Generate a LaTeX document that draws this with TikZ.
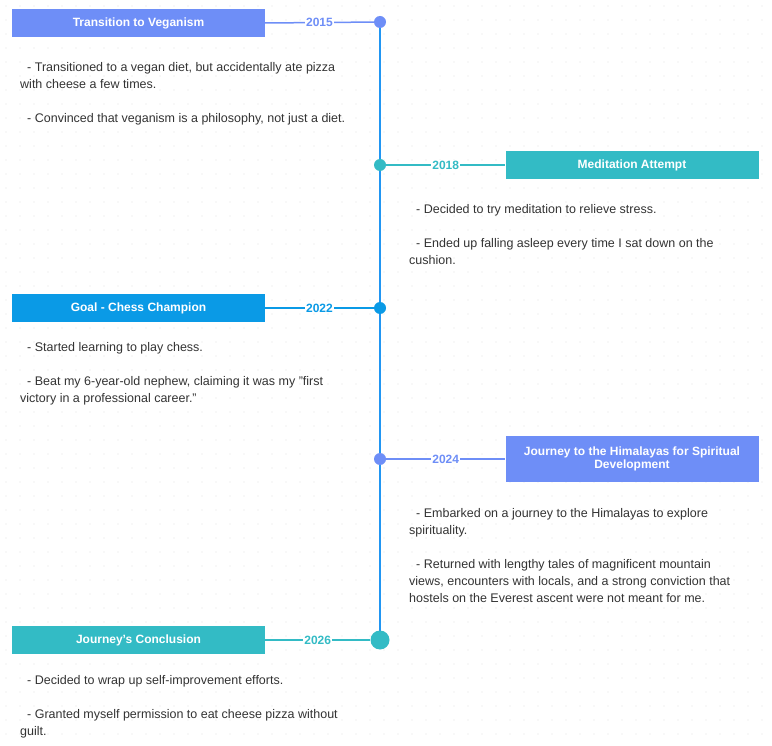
\documentclass[tikz,border=0pt]{standalone}
\usepackage{fontspec}
\setmainfont{Liberation Sans}
\definecolor{peri}{HTML}{6E8EF7}
\definecolor{teal}{HTML}{33BBC5}
\definecolor{cblue}{HTML}{0A9AE6}
\definecolor{tline}{HTML}{2196F3}
\definecolor{txt}{HTML}{333333}
\begin{document}
\begin{tikzpicture}[x=1pt,y=-1pt,
  box/.style={draw=none,fill=#1,minimum width=253pt,text=white,font=\fontsize{12}{13}\selectfont\bfseries,align=center,inner sep=2pt},
  yr/.style={fill=white,text=#1,font=\fontsize{12}{13}\selectfont\bfseries,inner sep=1pt},
  dot/.style={circle,fill=#1,inner sep=0pt,minimum size=12pt},
  conn/.style={draw=#1,line width=1.5pt},
  body/.style={anchor=north west,text=txt,font=\fontsize{12.5}{17}\selectfont,align=left,inner sep=0pt}]
\useasboundingbox (0,0) rectangle (772,746);
\fill[white] (0,0) rectangle (772,746);
\foreach \i in {0,...,55}{\foreach \j in {0,...,54}{\fill[gray!22] (6+\i*14,6+\j*14) circle (0.7pt);}}
\coordinate (top) at (380,22); \coordinate (bot) at (380,640);
\draw[tline,line width=2pt] (top) -- (bot);
% 2015
\node[box=peri,minimum height=28pt] (b1) at (138.5,23) {Transition to Veganism};
\node[dot=peri] (d1) at (380,22) {};
\draw[conn=peri] (b1.east) -- (d1) node[midway,yr=peri] {2015};
\node[body] (t1) at (20,62) {\hspace*{7pt}- Transitioned to a vegan diet, but accidentally ate pizza\\with cheese a few times.\\[17pt]\hspace*{7pt}- Convinced that veganism is a philosophy, not just a diet.};
% 2018
\node[box=teal,minimum height=28pt] (b2) at (632,165) {Meditation Attempt};
\node[dot=teal] (d2) at (380,165) {};
\draw[conn=teal] (d2) -- (b2.west) node[midway,yr=teal] {2018};
\node[body] (t2) at (409,204) {\hspace*{7pt}- Decided to try meditation to relieve stress.\\[17pt]\hspace*{7pt}- Ended up falling asleep every time I sat down on the\\cushion.};
% 2022
\node[box=cblue,minimum height=28pt] (b3) at (138.5,308) {Goal - Chess Champion};
\node[dot=cblue] (d3) at (380,308) {};
\draw[conn=cblue] (b3.east) -- (d3) node[midway,yr=cblue] {2022};
\node[body] (t3) at (20,342) {\hspace*{7pt}- Started learning to play chess.\\[17pt]\hspace*{7pt}- Beat my 6-year-old nephew, claiming it was my "first\\victory in a professional career."};
% 2024
\node[box=peri,minimum height=46pt] (b4) at (632,459) {Journey to the Himalayas for Spiritual\\Development};
\node[dot=peri] (d4) at (380,459) {};
\draw[conn=peri] (d4) -- (b4.west) node[midway,yr=peri] {2024};
\node[body] (t4) at (409,508) {\hspace*{7pt}- Embarked on a journey to the Himalayas to explore\\spirituality.\\[17pt]\hspace*{7pt}- Returned with lengthy tales of magnificent mountain\\views, encounters with locals, and a strong conviction that\\hostels on the Everest ascent were not meant for me.};
% 2026
\node[box=teal,minimum height=28pt] (b5) at (138.5,640) {Journey's Conclusion};
\node[dot=teal,minimum size=19pt] (d5) at (380,640) {};
\draw[conn=teal] (b5.east) -- (d5) node[midway,yr=teal] {2026};
\node[body] (t5) at (20,675) {\hspace*{7pt}- Decided to wrap up self-improvement efforts.\\[17pt]\hspace*{7pt}- Granted myself permission to eat cheese pizza without\\guilt.};
\end{tikzpicture}
\end{document}
